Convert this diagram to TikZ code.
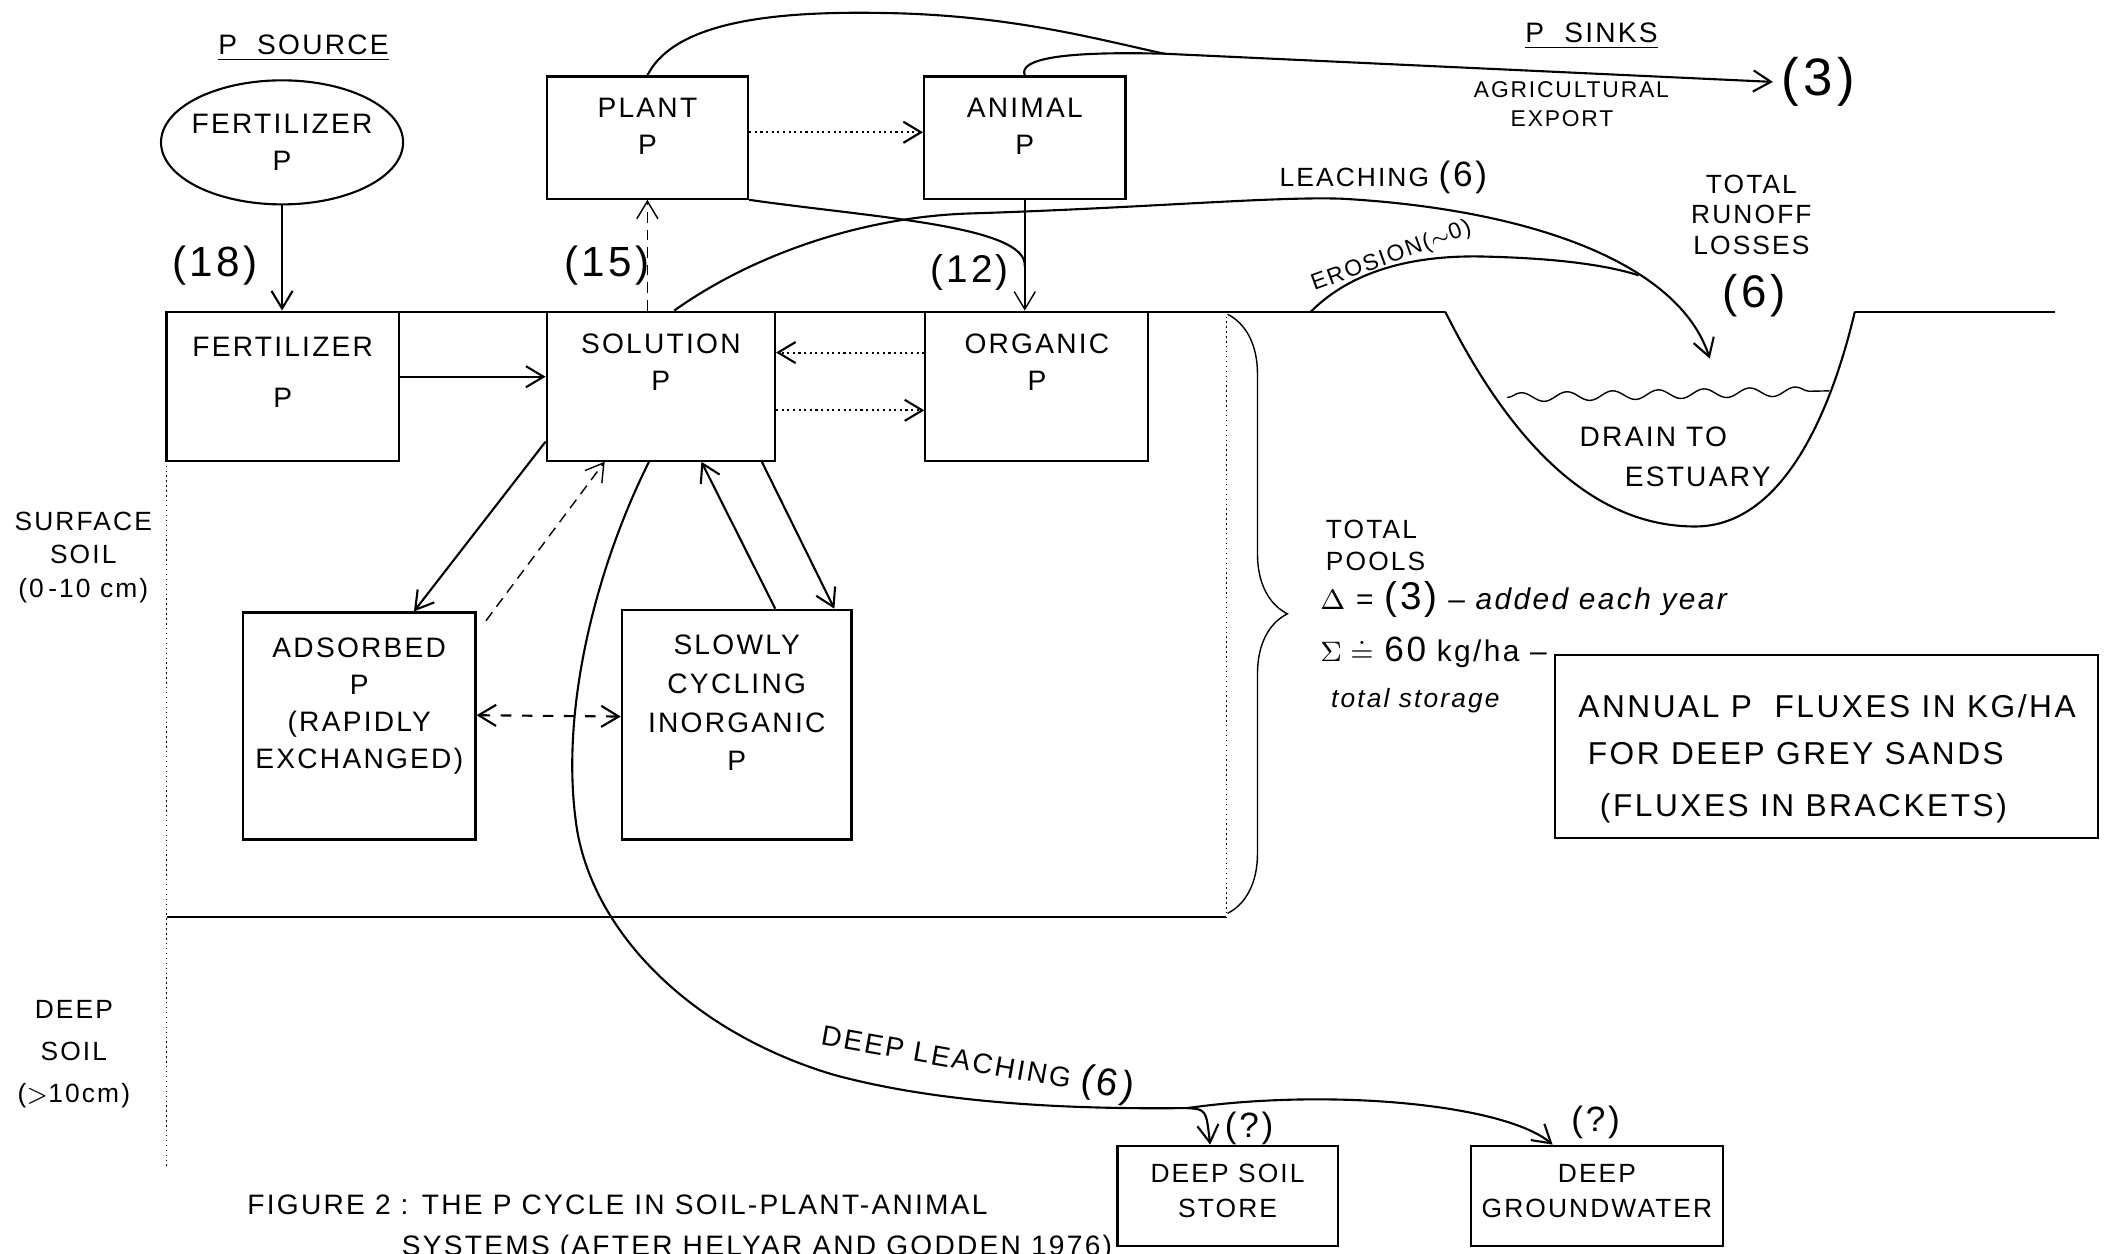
\documentclass[tikz,border=0pt]{standalone}
\usepackage{fontspec}
\setmainfont{Liberation Sans}[LetterSpace=8]
\usetikzlibrary{positioning, arrows.meta, fit, calc, shapes.geometric, decorations.pathmorphing, decorations.pathreplacing}

\tikzset{
  pool/.style={draw, semithick, inner sep=0pt},
  lbl/.style={align=center, font=\fontsize{8}{10.5}\selectfont},
  fluxnum/.style={font=\fontsize{12}{14}\selectfont},
  flow/.style={->, semithick},
  weak/.style={->, densely dotted, semithick},
}
\newcommand{\bignum}{\fontsize{11}{13}\selectfont}

\begin{document}
\begin{tikzpicture}[x=0.01343cm, y=-0.01343cm, >={Straight Barb[length=5pt,width=6pt]}]
\useasboundingbox (0,0) rectangle (1568,933);

% source and sinks
\node[lbl] (srcTitle) at (226,36) {\underline{P\ \ SOURCE}};
\node[draw, semithick, ellipse, minimum width=2.42cm, minimum height=1.24cm] (fertSrc) at (210,106) {};
\node[lbl] (fertSrcTxt) at (fertSrc) {FERTILIZER\\P};
\node[lbl] (sinkTitle) at (1185,27) {\underline{P\ \ SINKS}};

% plant and animal
\node[pool, fit={(407,57) (557,148)}] (plant) {};
\node[lbl, below=3pt of plant.north] (plantTxt) {PLANT\\P};
\node[pool, fit={(688,57) (838,148)}] (animal) {};
\node[lbl, below=3pt of animal.north] (animalTxt) {ANIMAL\\P};

% surface soil pools
\node[pool, fit={(124,232) (297,343)}] (fertSoil) {};
\node[lbl, below=4pt of fertSoil.north] (fertSoilTxt) {FERTILIZER\\[4pt]P};
\node[pool, fit={(407,232) (577,343)}] (solution) {};
\node[lbl, below=3pt of solution.north] (solutionTxt) {SOLUTION\\P};
\node[pool, fit={(689,232) (855,343)}] (organic) {};
\node[lbl, below=3pt of organic.north] (organicTxt) {ORGANIC\\P};
\node[pool, fit={(181,456) (354,625)}] (adsorbed) {};
\node[lbl, below=4pt of adsorbed.north] (adsorbedTxt) {ADSORBED\\P\\(RAPIDLY\\EXCHANGED)};
\node[pool, fit={(463,454) (634,625)}] (slowly) {};
\node[lbl, below=4pt of slowly.north, font=\fontsize{8}{11}\selectfont] (slowlyTxt) {SLOWLY\\CYCLING\\INORGANIC\\P};

% deep stores
\node[pool, fit={(832,853) (996,928)}] (deepStore) {};
\node[lbl, below=2pt of deepStore.north, font=\fontsize{7.5}{10}\selectfont] (deepStoreTxt) {DEEP SOIL\\STORE};
\node[pool, fit={(1095,853) (1283,928)}] (groundwater) {};
\node[lbl, below=2pt of groundwater.north, font=\fontsize{7.5}{10}\selectfont] (groundwaterTxt) {DEEP\\GROUNDWATER};

% soil layers
\draw[semithick] (124,232) -- (1076,232);
\draw[semithick] (1381,232) -- (1530,232);
\draw[thin, densely dotted] (124,343) -- (124,870);
\draw[thin, densely dotted] (913,232) -- (913,683);
\draw[semithick] (124,683) -- (913,683);
\node[lbl, font=\fontsize{7.5}{9.5}\selectfont] (surfaceLbl) at (62,415) {SURFACE\\SOIL\\(0\,-10 cm)};
\node[lbl, font=\fontsize{7.5}{12}\selectfont] (deepLbl) at (55,785) {DEEP\\SOIL\\($>$10cm)};

% drain
\draw[semithick] (1076,232) .. controls (1120,320) and (1180,392) .. (1262,392)
  .. controls (1330,392) and (1365,300) .. (1381,232);
\draw[decorate, decoration={snake, amplitude=1.3pt, segment length=13pt}] (1122,296) -- (1362,291);
\node[lbl, font=\fontsize{8}{10}\selectfont] (drainTxt) at (1231,325) {DRAIN TO};
\node[lbl, font=\fontsize{8}{10}\selectfont] (estuaryTxt) at (1264,355) {ESTUARY};
\node[lbl, font=\fontsize{7.5}{8.6}\selectfont] (runoffTxt) at (1304,160) {TOTAL\\RUNOFF\\LOSSES};
\node[font=\fontsize{13}{15}\selectfont] (runoffVal) at (1306,220) {(6)};

% totals
\draw[decorate, decoration={brace, amplitude=17pt}] (914,234) -- (914,680);
\node[lbl, anchor=west, align=left, font=\fontsize{7.5}{9}\selectfont] (poolsTxt) at (978,406) {TOTAL\\POOLS};
\node[anchor=west, inner sep=1pt, font=\fontsize{8.5}{10}\selectfont] (deltaTxt) at (980,446) {$\Delta$ = {\bignum(3)} -- \textit{added each year}};
\node[anchor=west, inner sep=1pt, font=\fontsize{8.5}{10}\selectfont] (sigmaTxt) at (980,486) {$\Sigma\doteq$ {\fontsize{10}{12}\selectfont 60} kg/ha --};
\node[anchor=west, inner sep=1pt, font=\fontsize{7.5}{9}\selectfont] (storageTxt) at (988,522) {\textit{total storage}};

% key
\node[pool, fit={(1158,488) (1562,624)}] (fluxBox) {};
\node[anchor=west, font=\fontsize{9}{11}\selectfont] (keyA) at (1166,526) {ANNUAL P\ \ FLUXES IN KG/HA};
\node[anchor=west, font=\fontsize{9}{11}\selectfont] (keyB) at (1173,561) {FOR DEEP GREY SANDS};
\node[anchor=west, font=\fontsize{9}{11}\selectfont] (keyC) at (1182,602) {(FLUXES IN BRACKETS)};

% caption
\node[lbl, anchor=west] (caption) at (175,897) {FIGURE 2 : THE P CYCLE IN SOIL-PLANT-ANIMAL};
\node[lbl, anchor=west] (captionB) at (290,929) {SYSTEMS (AFTER HELYAR AND GODDEN 1976)};

% fluxes into the soil and up to the plant
\draw[flow] (fertSrc.south) -- (fertSrc.south |- fertSoil.north);
\node[fluxnum] (fertVal) at (160,198) {(18)};
\draw[->, densely dashed] (plant.south |- solution.north) -- (plant.south);
\node[fluxnum] (uptakeVal) at (452,198) {(15)};
\draw[weak] ($(plant.east)+(0,-4)$) -- ($(animal.west)+(0,-4)$);
\coordinate (orgIn) at (animal.south |- organic.north);
\coordinate (orgJoin) at ($(animal.south)!0.6!(orgIn)$);
\draw[->] (animal.south) -- (orgIn);
\draw[semithick] (plant.south east) .. controls (650,162) and (765,168) .. (orgJoin);
\node[fluxnum, font=\fontsize{11}{13}\selectfont] (returnVal) at (722,203) {(12)};

% export
\coordinate (exportJoin) at (867,40);
\coordinate (exportTip) at (1320,61);
\draw[flow] (plant.north) .. controls (505,10) and (600,8) .. (672,10)
  .. controls (760,13) and (820,30) .. (exportJoin) -- (exportTip);
\draw[semithick] (animal.north) .. controls (758,44) and (790,38) .. (exportJoin);
\node[right=-1pt of exportTip, font=\fontsize{15}{17}\selectfont] (exportVal) {(3)};
\node[lbl, font=\fontsize{6.5}{8}\selectfont] (exportTxt) at (1170,67) {AGRICULTURAL};
\node[lbl, font=\fontsize{6.5}{8}\selectfont] (exportTxtB) at (1163,88) {EXPORT};

% runoff
\coordinate (drainIn) at (1273,267);
\coordinate (erosJoin) at (1220,205);
\draw[flow] ($(solution.north)+(10,0)$) .. controls (560,190) and (640,162) .. (720,159)
  .. controls (850,155) and (950,146) .. (1000,148)
  .. controls (1140,156) and (1250,196) .. (drainIn);
\draw[semithick] (976,232) .. controls (1010,198) and (1060,190) .. (1104,191)
  .. controls (1150,192) and (1192,196) .. (erosJoin);
\node[lbl, font=\fontsize{7.5}{9}\selectfont] (leachTxt) at (1030,132) {LEACHING {\fontsize{10}{12}\selectfont(6)}};
\node[rotate=20, font=\fontsize{6.5}{8}\selectfont] (erosTxt) at (1036,191) {EROSION($\sim$0)};

% exchange within the surface soil
\draw[flow] ($(fertSoil.east)+(0,-7)$) -- ($(solution.west)+(0,-7)$);
\draw[weak] ($(organic.west)+(0,-25)$) -- ($(solution.east)+(0,-25)$);
\draw[weak] ($(solution.east)+(0,18)$) -- ($(organic.west)+(0,18)$);
\draw[flow] ($(solution.south west)+(0,-15)$) -- ($(adsorbed.north west)+(128,0)$);
\draw[->, densely dashed] ($(adsorbed.north east)+(7,7)$) -- ($(solution.south west)+(44,0)$);
\draw[flow] ($(slowly.north west)+(115,0)$) -- ($(solution.south west)+(116,0)$);
\draw[flow] ($(solution.south west)+(161,0)$) -- ($(slowly.north west)+(159,0)$);
\draw[<->, dashed, semithick] ($(adsorbed.east)+(0,-8)$) -- ($(slowly.west)+(0,-6)$);

% deep leaching
\coordinate (split) at (884,825);
\draw[semithick] ($(solution.south west)+(77,0)$) .. controls (445,420) and (415,530) .. (430,620)
  .. controls (445,700) and (520,770) .. (620,800)
  .. controls (700,822) and (800,826) .. (split);
\draw[flow] (split) .. controls (898,826) .. ($(deepStore.north)+(-13,0)$);
\draw[flow] (split) .. controls (990,810) and (1120,822) .. ($(groundwater.north)+(-33,0)$);
\node[rotate=-10, font=\fontsize{8}{10}\selectfont] (deepLeachTxt) at (728,791) {DEEP LEACHING {\bignum(6)}};
\node[font=\fontsize{10}{12}\selectfont] (storeVal) at (930,840) {(?)};
\node[font=\fontsize{10}{12}\selectfont] (gwVal) at (1188,836) {(?)};
\end{tikzpicture}
\end{document}
